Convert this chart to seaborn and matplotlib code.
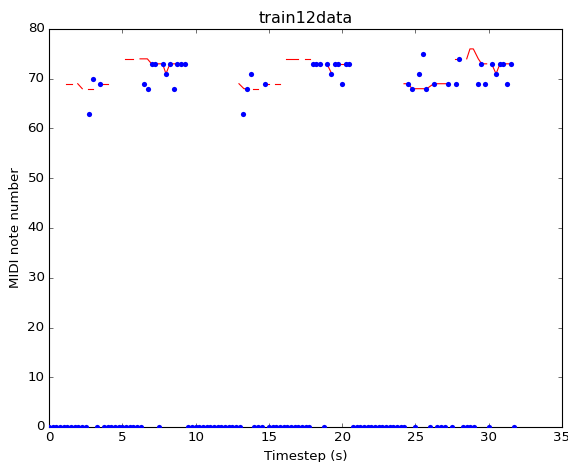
import numpy as np
import pandas as pd
import matplotlib
matplotlib.use("Agg")
import matplotlib.pyplot as plt
import seaborn as sns

plt.style.use("classic")
plt.rcParams["figure.facecolor"] = "white"
plt.rcParams["savefig.facecolor"] = "white"
plt.rcParams["font.family"] = ["DejaVu Sans"]

title = "train12data"
x_label = "Timestep (s)"
y_label = "MIDI note number"

# Blue points: note value at each 0.25 s frame (0 = silence)
frame_step = 0.25
note_values = [
    0, 0, 0, 0, 0, 0, 0, 0, 0, 0, 0, 63, 70, 0, 69, 0,
    0, 0, 0, 0, 0, 0, 0, 0, 0, 0, 69, 68, 73, 73, 0, 73,
    71, 73, 68, 73, 73, 73, 0, 0, 0, 0, 0, 0, 0, 0, 0, 0,
    0, 0, 0, 0, 0, 63, 68, 71, 0, 0, 0, 69, 0, 0, 0, 0,
    0, 0, 0, 0, 0, 0, 0, 0, 73, 73, 73, 0, 73, 71, 73, 73,
    69, 73, 73, 0, 0, 0, 0, 0, 0, 0, 0, 0, 0, 0, 0, 0,
    0, 0, 69, 68, 0, 71, 75, 68, 0, 69, 0, 0, 0, 69, 0, 69,
    74, 0, 0, 0, 0, 69, 73, 69, 0, 73, 71, 73, 73, 69, 73, 0,
]
note_times = [i * frame_step for i in range(len(note_values))]

# Red pitch contour, broken into voiced segments
contour_segment = [1, 1, 2, 2, 3, 3, 4, 4, 5, 5,
                   6, 6, 6, 6, 6, 6, 6,
                   7, 7, 7, 8, 8, 9, 9, 10, 10, 11, 11, 12, 12,
                   13, 13, 14, 14, 15, 15,
                   16, 16, 16, 16, 16, 16, 17, 17,
                   18, 18, 18, 18, 18, 18,
                   19, 19, 19, 19]
contour_times = [1.16, 1.55, 1.96, 2.27, 2.68, 3.02, 3.43, 4.05, 5.19, 5.75,
                 6.21, 6.71, 7.0, 7.75, 7.98, 8.25, 9.28,
                 12.96, 13.3, 13.6, 13.94, 14.28, 14.67, 15.03, 15.42, 15.76, 16.2, 17.0, 17.47, 17.81,
                 17.96, 18.6, 18.96, 19.29, 19.5, 20.5,
                 24.22, 24.51, 24.77, 25.77, 26.25, 27.29, 27.7, 28.0,
                 28.5, 28.72, 28.95, 29.29, 29.52, 29.86,
                 30.2, 30.5, 30.77, 31.57]
contour_values = [69, 69, 69, 68, 68, 68, 69, 69, 74, 74,
                  74, 74, 73, 73, 71, 73, 73,
                  69, 68, 68, 68, 68, 69, 69, 69, 69, 74, 74, 74, 74,
                  73, 73, 73, 71, 73, 73,
                  69, 69, 68, 68, 69, 69, 74, 74,
                  74, 76, 76, 74, 73, 73,
                  73, 71, 73, 73]

x_ticks = [0, 5, 10, 15, 20, 25, 30, 35]
y_ticks = [0, 10, 20, 30, 40, 50, 60, 70, 80]

notes_df = pd.DataFrame({"t": note_times, "note": note_values})
contour_df = pd.DataFrame({"t": contour_times, "pitch": contour_values, "seg": contour_segment})

fig = plt.figure(figsize=(568 / 80, 462 / 80), dpi=80)
ax = fig.add_axes([49 / 568, 1 - 427 / 462, (562 - 49) / 568, (427 - 29) / 462])

sns.lineplot(data=contour_df, x="t", y="pitch", units="seg", estimator=None,
             sort=False, color="red", linewidth=1.0, ax=ax, legend=False)
sns.scatterplot(data=notes_df, x="t", y="note", color="blue", s=22,
                linewidth=0, ax=ax, legend=False, zorder=3)

ax.set_xlim(0, 35)
ax.set_ylim(0, 80)
ax.set_xticks(x_ticks)
ax.set_yticks(y_ticks)
ax.set_xlabel(x_label, fontsize=12)
ax.set_ylabel(y_label, fontsize=12)
ax.set_title(title, fontsize=14.4)

fig.savefig("out.png", dpi=80)
